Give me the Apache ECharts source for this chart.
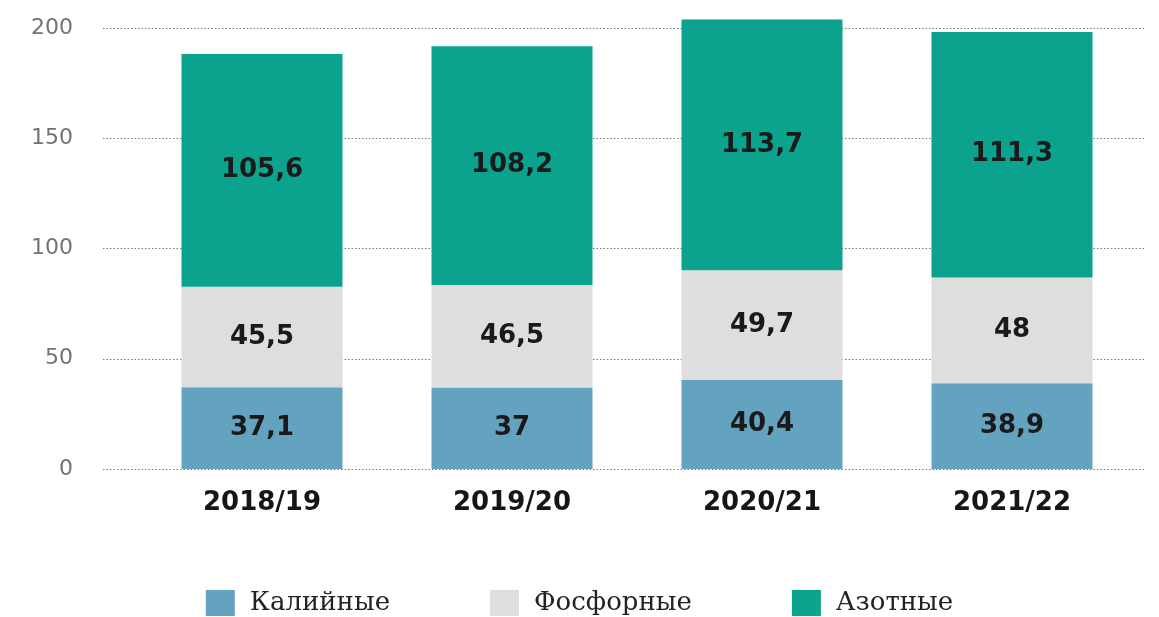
<!DOCTYPE html>
<html>
<head>
<meta charset="utf-8">
<script src="https://cdn.jsdelivr.net/npm/echarts@6/dist/echarts.min.js"></script>
<style>
  html, body { margin: 0; padding: 0; background: #fff; }
  #chart { width: 1159px; height: 617px; }
</style>
</head>
<body>
<div id="chart"></div>
<script>
const years = ['2018/19', '2019/20', '2020/21', '2021/22']
const potash = [37.1, 37, 40.4, 38.9]
const phosphate = [45.5, 46.5, 49.7, 48]
const nitrogen = [105.6, 108.2, 113.7, 111.3]
const seriesNames = ['Калийные', 'Фосфорные', 'Азотные']
const colors = ['#64a3c0', '#dedede', '#0ba28e']

const chart = echarts.init(document.getElementById('chart'))

// comma as decimal separator
const fmt = p => String(p.value).replace('.', ',')

const barLabel = {
  show: true,
  position: 'inside',
  formatter: fmt,
  color: '#1a1a1a',
  fontFamily: 'DejaVu Sans',
  fontWeight: 'bold',
  fontSize: 26
}

function makeSeries(name, data, color) {
  return {
    name: name,
    type: 'bar',
    stack: 'total',
    xAxisIndex: 1,
    yAxisIndex: 1,
    barWidth: 161,
    clip: false,
    data: data,
    itemStyle: { color: color },
    label: barLabel,
    emphasis: { disabled: true }
  }
}

const option = {
  animation: false,
  grid: [
    // wide grid just for the dotted lines and y labels
    { left: 103, right: 14, top: 28, bottom: 148 },
    { left: 137, right: 22, top: 28, bottom: 148 }
  ],
  xAxis: [
    { gridIndex: 0, type: 'value', min: 0, max: 1, show: false },
    {
      gridIndex: 1,
      type: 'category',
      data: years,
      axisLine: { show: false },
      axisTick: { show: false },
      axisLabel: {
        margin: 21,
        color: '#161616',
        fontFamily: 'DejaVu Sans',
        fontWeight: 'bold',
        fontSize: 26
      }
    }
  ],
  yAxis: [
    {
      gridIndex: 0,
      type: 'value',
      min: 0,
      max: 200,
      interval: 50,
      axisLine: { show: false },
      axisTick: { show: false },
      axisLabel: {
        margin: 30,
        color: '#737373',
        fontFamily: 'DejaVu Sans',
        fontSize: 22
      },
      splitLine: {
        lineStyle: { color: '#777', width: 1, type: [1.5, 2] }
      }
    },
    { gridIndex: 1, type: 'value', min: 0, max: 200, show: false }
  ],
  legend: {
    top: 585,
    left: 'center',
    icon: 'rect',
    itemWidth: 29,
    itemHeight: 26,
    itemGap: 100,
    data: seriesNames,
    textStyle: {
      color: '#222',
      fontFamily: 'DejaVu Serif',
      fontSize: 26,
      padding: [0, 0, 0, 10]
    }
  },
  series: [
    makeSeries(seriesNames[0], potash, colors[0]),
    makeSeries(seriesNames[1], phosphate, colors[1]),
    makeSeries(seriesNames[2], nitrogen, colors[2])
  ]
}

chart.setOption(option)
</script>
</body>
</html>
